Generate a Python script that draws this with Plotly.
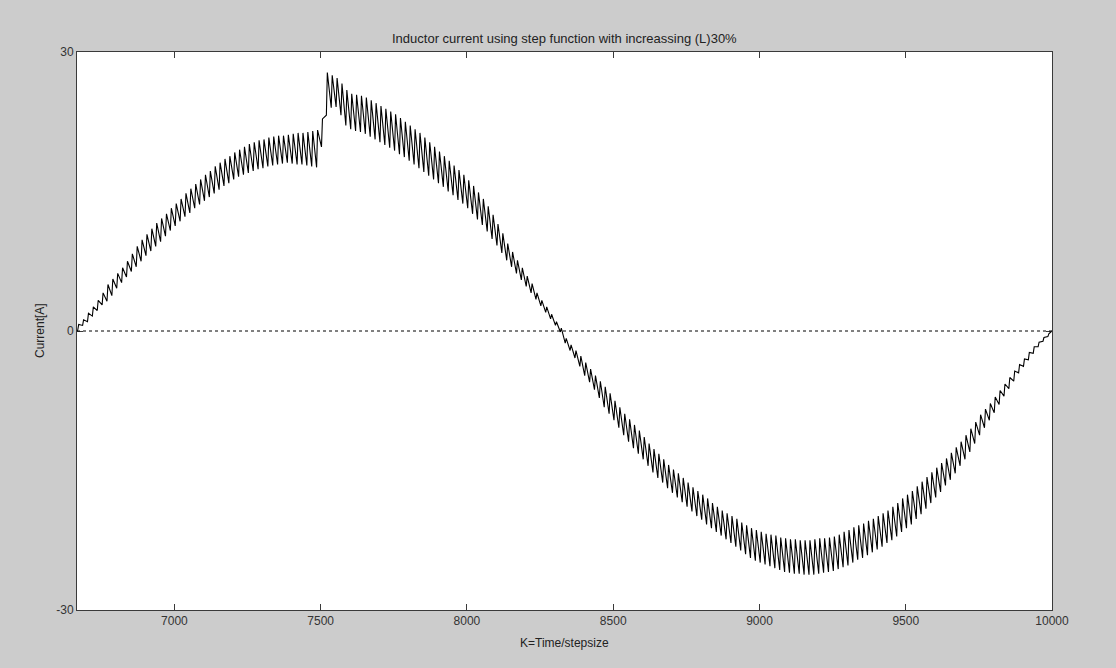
import numpy as np
import plotly.graph_objects as go

# ---------------- data ----------------
k_start = 6667          # first sample index shown
k_end = 10000           # last sample index shown
n_cycles = 200          # ripple cycles counted across the window

# ripple peaks (upper envelope) for each ripple cycle, A
peaks = [
    0.7, 1.2, 1.9, 2.6, 3.3, 4.1, 5.0, 5.6, 6.2, 6.8,
    7.5, 8.3, 9.1, 9.8, 10.4, 11.0, 11.6, 12.1, 12.6, 13.2,
    13.7, 14.2, 14.8, 15.3, 15.8, 16.3, 16.8, 17.2, 17.7, 18.1,
    18.5, 18.8, 19.2, 19.5, 19.8, 20.1, 20.3, 20.5, 20.6, 20.8,
    20.9, 21.0, 21.0, 21.1, 21.2, 21.3, 21.3, 21.4, 21.5, 21.6,
    22.8, 27.8, 27.5, 27.2, 26.6, 25.9, 25.5, 25.4, 25.3, 25.1,
    24.8, 24.5, 24.2, 23.9, 23.6, 23.3, 22.9, 22.5, 22.1, 21.7,
    21.3, 20.8, 20.3, 19.8, 19.3, 18.8, 18.3, 17.8, 17.3, 16.8,
    16.2, 15.6, 14.9, 14.2, 13.4, 12.5, 11.5, 10.5, 9.4, 8.5,
    7.6, 6.8, 5.9, 5.1, 4.1, 3.3, 2.6, 1.8, 1.0, 0.3,
    -0.8, -1.5, -2.1, -2.7, -3.4, -4.1, -4.8, -5.4, -6.0, -6.7,
    -7.5, -8.2, -8.9, -9.5, -10.1, -10.7, -11.4, -12.1, -12.7, -13.2,
    -13.8, -14.4, -14.9, -15.3, -15.8, -16.3, -16.8, -17.2, -17.6, -18.0,
    -18.5, -18.9, -19.3, -19.6, -19.9, -20.2, -20.6, -20.9, -21.2, -21.4,
    -21.6, -21.8, -21.9, -22.0, -22.2, -22.3, -22.4, -22.4, -22.5, -22.5,
    -22.5, -22.4, -22.3, -22.3, -22.2, -22.1, -21.9, -21.6, -21.4, -21.1,
    -20.9, -20.7, -20.4, -20.2, -19.9, -19.6, -19.3, -18.9, -18.5, -18.0,
    -17.6, -17.2, -16.7, -16.2, -15.7, -15.2, -14.7, -14.2, -13.7, -13.1,
    -12.5, -11.9, -11.2, -10.5, -9.8, -9.0, -8.4, -7.8, -7.1, -6.4,
    -5.7, -5.0, -4.3, -3.6, -3.0, -2.3, -1.7, -1.2, -0.7, -0.3,
]

# ripple troughs (lower envelope) for each ripple cycle, A
troughs = [
    0.1, 0.6, 1.0, 1.6, 2.2, 2.8, 3.2, 3.8, 4.6, 5.2,
    5.8, 6.4, 6.9, 7.5, 8.1, 8.6, 9.1, 9.6, 10.2, 10.8,
    11.3, 11.8, 12.3, 12.7, 13.2, 13.6, 14.0, 14.4, 14.8, 15.2,
    15.6, 15.9, 16.3, 16.6, 16.8, 17.0, 17.2, 17.4, 17.5, 17.7,
    17.8, 17.9, 18.0, 18.1, 18.0, 17.9, 17.9, 17.8, 17.7, 17.6,
    19.8, 23.2, 24.0, 24.1, 23.2, 22.1, 21.7, 21.5, 21.4, 21.2,
    20.9, 20.6, 20.3, 20.0, 19.7, 19.4, 19.0, 18.7, 18.3, 17.9,
    17.5, 17.1, 16.7, 16.3, 15.9, 15.5, 15.0, 14.6, 14.1, 13.7,
    13.2, 12.6, 12.0, 11.4, 10.7, 9.9, 9.2, 8.4, 7.6, 6.9,
    6.2, 5.5, 4.8, 4.1, 3.4, 2.7, 2.0, 1.3, 0.6, -0.1,
    -1.3, -2.1, -2.9, -3.8, -4.8, -5.5, -6.3, -7.2, -8.2, -8.9,
    -9.6, -10.4, -11.2, -11.9, -12.6, -13.2, -13.8, -14.5, -15.2, -15.8,
    -16.3, -16.9, -17.4, -17.9, -18.4, -18.9, -19.4, -19.9, -20.3, -20.8,
    -21.2, -21.6, -22.0, -22.4, -22.8, -23.2, -23.6, -24.0, -24.4, -24.7,
    -24.9, -25.1, -25.3, -25.5, -25.7, -25.9, -26.0, -26.1, -26.1, -26.2,
    -26.2, -26.2, -26.1, -26.0, -25.9, -25.8, -25.6, -25.4, -25.2, -24.9,
    -24.6, -24.4, -24.1, -23.8, -23.5, -23.2, -22.8, -22.5, -22.1, -21.6,
    -21.2, -20.8, -20.2, -19.7, -19.1, -18.5, -17.9, -17.3, -16.6, -16.0,
    -15.3, -14.5, -13.8, -13.0, -12.1, -11.2, -10.4, -9.6, -8.8, -7.9,
    -7.0, -6.2, -5.4, -4.5, -3.8, -3.1, -2.4, -1.7, -1.1, -0.6,
]

start_value = 0.0
end_value = 0.0

x_ticks = [7000, 7500, 8000, 8500, 9000, 9500, 10000]
x_tick_labels = ["7000", "7500", "8000", "8500", "9000", "9500", "10000"]
y_ticks = [-30, 0, 30]
y_tick_labels = ["-30", "0", "30"]

title_text = "Inductor current using step function with increassing (L)30%"
x_label = "K=Time/stepsize"
y_label = "Current[A]"

# ---------------- build the zig-zag sample sequence ----------------
period = (k_end - k_start) / n_cycles
k_cycle = k_start + period * np.arange(n_cycles)
xs = [k_start]
ys = [start_value]
for i in range(n_cycles):
    xs.append(k_cycle[i] + 0.15 * period)
    ys.append(troughs[i])
    xs.append(k_cycle[i] + 0.35 * period)
    ys.append(peaks[i])
xs.append(k_end)
ys.append(end_value)

# ---------------- figure ----------------
fig = go.Figure()
fig.add_trace(go.Scatter(
    x=xs, y=ys, mode="lines",
    line=dict(color="black", width=1.1),
    hoverinfo="skip", showlegend=False,
))
fig.add_hline(y=0, line=dict(color="black", width=1, dash="3px,3px"))

axis_common = dict(
    showgrid=False, zeroline=False,
    showline=True, linecolor="#3a3a3a", linewidth=1, mirror="ticks",
    ticks="inside", ticklen=6, tickcolor="#3a3a3a", tickwidth=1,
    tickfont=dict(family="Arial", size=12, color="#333333"),
)

fig.update_layout(
    width=1116, height=668,
    paper_bgcolor="#cccccc", plot_bgcolor="white",
    margin=dict(l=77, r=64, t=52, b=58),
    xaxis=dict(range=[k_start, k_end], tickvals=x_ticks,
               ticktext=x_tick_labels, **axis_common),
    yaxis=dict(range=[-30, 30], tickvals=y_ticks,
               ticktext=y_tick_labels, **axis_common),
    annotations=[
        dict(text=title_text, xref="paper", yref="paper", x=0.5, y=1.0,
             yshift=14, showarrow=False, xanchor="center", yanchor="middle",
             font=dict(family="Arial", size=13, color="#222222")),
        dict(text=x_label, xref="paper", yref="paper", x=0.5, y=0.0,
             yshift=-33, showarrow=False, xanchor="center", yanchor="middle",
             font=dict(family="Arial", size=12, color="#222222")),
        dict(text=y_label, xref="paper", yref="paper", x=0.0, y=0.5,
             xshift=-37, showarrow=False, textangle=-90,
             xanchor="center", yanchor="middle",
             font=dict(family="Arial", size=12, color="#222222")),
    ],
)

fig.write_html("out.html")
